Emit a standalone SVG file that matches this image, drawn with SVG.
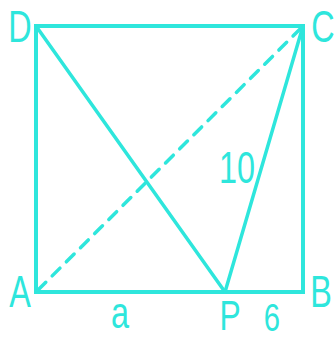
<svg xmlns="http://www.w3.org/2000/svg" width="336" height="340" viewBox="0 0 336 340">
<style>
.ln{stroke:#2ee6dc;fill:none;stroke-linecap:round;stroke-linejoin:miter}
.lb{fill:#2ee6dc;font-family:"Liberation Sans",Arial,sans-serif;font-size:45px;text-anchor:middle}
</style>
<rect width="336" height="340" fill="#ffffff"/>
<g id="connectors">
<rect id="square" class="ln" x="36" y="26" width="267" height="266" stroke-width="4"/>
<line id="DP" class="ln" x1="36" y1="26" x2="225" y2="292" stroke-width="3.5"/>
<line id="PC" class="ln" x1="225" y1="292" x2="303" y2="26" stroke-width="3.5"/>
<line id="AC" class="ln" x1="38" y1="290" x2="301" y2="28" stroke-width="3.5" stroke-dasharray="11 9" stroke-linecap="butt"/>
</g>
<g id="D"><text class="lb" transform="translate(20,42) scale(0.72,1)">D</text></g>
<g id="C"><text class="lb" transform="translate(323,42) scale(0.72,1)">C</text></g>
<g id="A"><text class="lb" transform="translate(20,307) scale(0.72,1)">A</text></g>
<g id="B"><text class="lb" transform="translate(321,307) scale(0.72,1)">B</text></g>
<g id="P"><text class="lb" style="font-size:43px" transform="translate(230,330) scale(0.74,1)">P</text></g>
<g id="label-a"><text class="lb" transform="translate(120,328) scale(0.72,1)">a</text></g>
<g id="label-6"><text class="lb" style="font-size:39px" transform="translate(272,331) scale(0.75,1)">6</text></g>
<g id="label-10"><text class="lb" transform="translate(237,183) scale(0.72,1)">10</text></g>
</svg>
